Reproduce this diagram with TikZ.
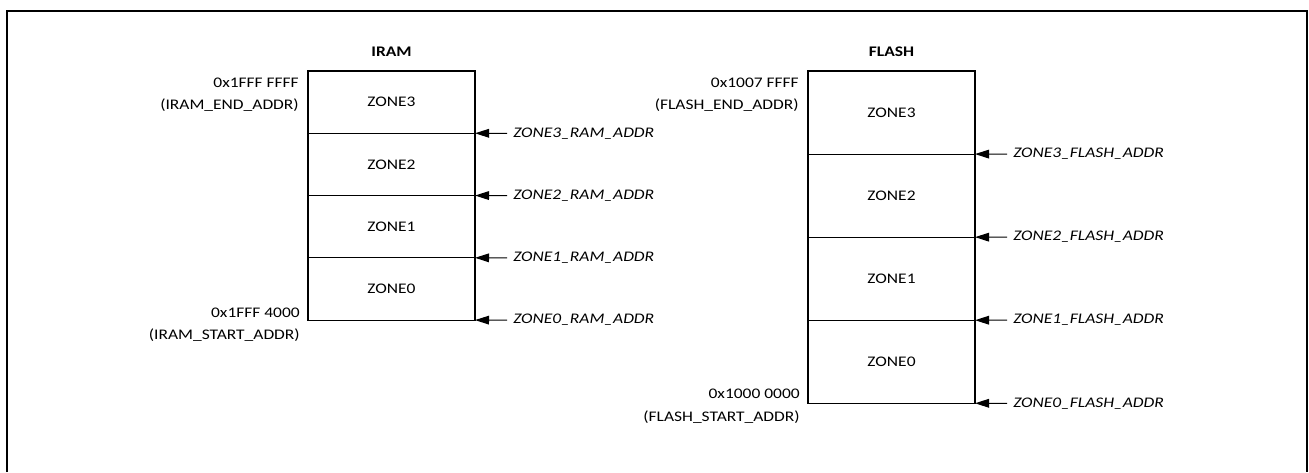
\documentclass[tikz,border=0pt]{standalone}
\usepackage{fontspec}
\setmainfont{Carlito}[FakeStretch=1.19]
\usetikzlibrary{arrows.meta,positioning}
\definecolor{Ink}{HTML}{000000}
\definecolor{Frame}{HTML}{000000}
\tikzset{
  zone/.style={draw=Ink, line width=0.8pt, minimum width=125.25pt, inner sep=0pt, outer sep=0pt, font=\fontsize{11}{13}\selectfont},
  memtitle/.style={inner sep=0pt, font=\fontsize{11}{13}\selectfont\bfseries},
  bound/.style={align=right, inner sep=0pt, font=\fontsize{11}{17}\selectfont},
  ptr/.style={inner xsep=4.5pt, inner ysep=0pt, font=\fontsize{11}{13}\selectfont\itshape},
  ptrline/.style={Ink, line width=0.8pt, -{Triangle[length=10.5pt,width=6.5pt]}}
}

\begin{document}
\begin{tikzpicture}[x=0.75pt, y=-0.75pt]
        \useasboundingbox (0,0) rectangle (1309,472);
        % frame, open at the bottom
        \draw[Frame, line width=1.5pt] (6.5,472) -- (6.5,11) -- (1306.5,11) -- (1306.5,472);

        % IRAM
        \node[memtitle, anchor=base] (iramt) at (391.5,56.5) {IRAM};
        \node[zone, minimum height=46.7pt, anchor=north] (ir3) at (391.5,71) {ZONE3};
        \node[zone, minimum height=46.7pt, below=0pt of ir3] (ir2) {ZONE2};
        \node[zone, minimum height=46.7pt, below=0pt of ir2] (ir1) {ZONE1};
        \node[zone, minimum height=46.7pt, below=0pt of ir1] (ir0) {ZONE0};
        \node[bound, anchor=east] (irend) at (299,94.8) {0x1FFF FFFF\\(IRAM\_END\_ADDR)};
        \node[bound, anchor=east] (irstart) at (300,324.8) {0x1FFF 4000\\(IRAM\_START\_ADDR)};

        \node[ptr, anchor=west] (irp3) at (507,133.3) {ZONE3\_RAM\_ADDR};
        \node[ptr, anchor=west] (irp2) at (507,195.6) {ZONE2\_RAM\_ADDR};
        \node[ptr, anchor=west] (irp1) at (507,257.9) {ZONE1\_RAM\_ADDR};
        \node[ptr, anchor=west] (irp0) at (507,320.2) {ZONE0\_RAM\_ADDR};
        \draw[ptrline] (irp3.west) -- (ir3.south east);
        \draw[ptrline] (irp2.west) -- (ir2.south east);
        \draw[ptrline] (irp1.west) -- (ir1.south east);
        \draw[ptrline] (irp0.west) -- (ir0.south east);

        % FLASH
        \node[memtitle, anchor=base] (flasht) at (891.5,56.5) {FLASH};
        \node[zone, minimum height=62.3pt, anchor=north] (fl3) at (891.5,71) {ZONE3};
        \node[zone, minimum height=62.3pt, below=0pt of fl3] (fl2) {ZONE2};
        \node[zone, minimum height=62.3pt, below=0pt of fl2] (fl1) {ZONE1};
        \node[zone, minimum height=62.3pt, below=0pt of fl1] (fl0) {ZONE0};
        \node[bound, anchor=east] (flend) at (799,94.8) {0x1007 FFFF\\(FLASH\_END\_ADDR)};
        \node[bound, anchor=east] (flstart) at (800,406.3) {0x1000 0000\\(FLASH\_START\_ADDR)};

        \node[ptr, anchor=west] (flp3) at (1007,154.1) {ZONE3\_FLASH\_ADDR};
        \node[ptr, anchor=west] (flp2) at (1007,237.2) {ZONE2\_FLASH\_ADDR};
        \node[ptr, anchor=west] (flp1) at (1007,320.2) {ZONE1\_FLASH\_ADDR};
        \node[ptr, anchor=west] (flp0) at (1007,403.3) {ZONE0\_FLASH\_ADDR};
        \draw[ptrline] (flp3.west) -- (fl3.south east);
        \draw[ptrline] (flp2.west) -- (fl2.south east);
        \draw[ptrline] (flp1.west) -- (fl1.south east);
        \draw[ptrline] (flp0.west) -- (fl0.south east);
      \end{tikzpicture}
\end{document}
